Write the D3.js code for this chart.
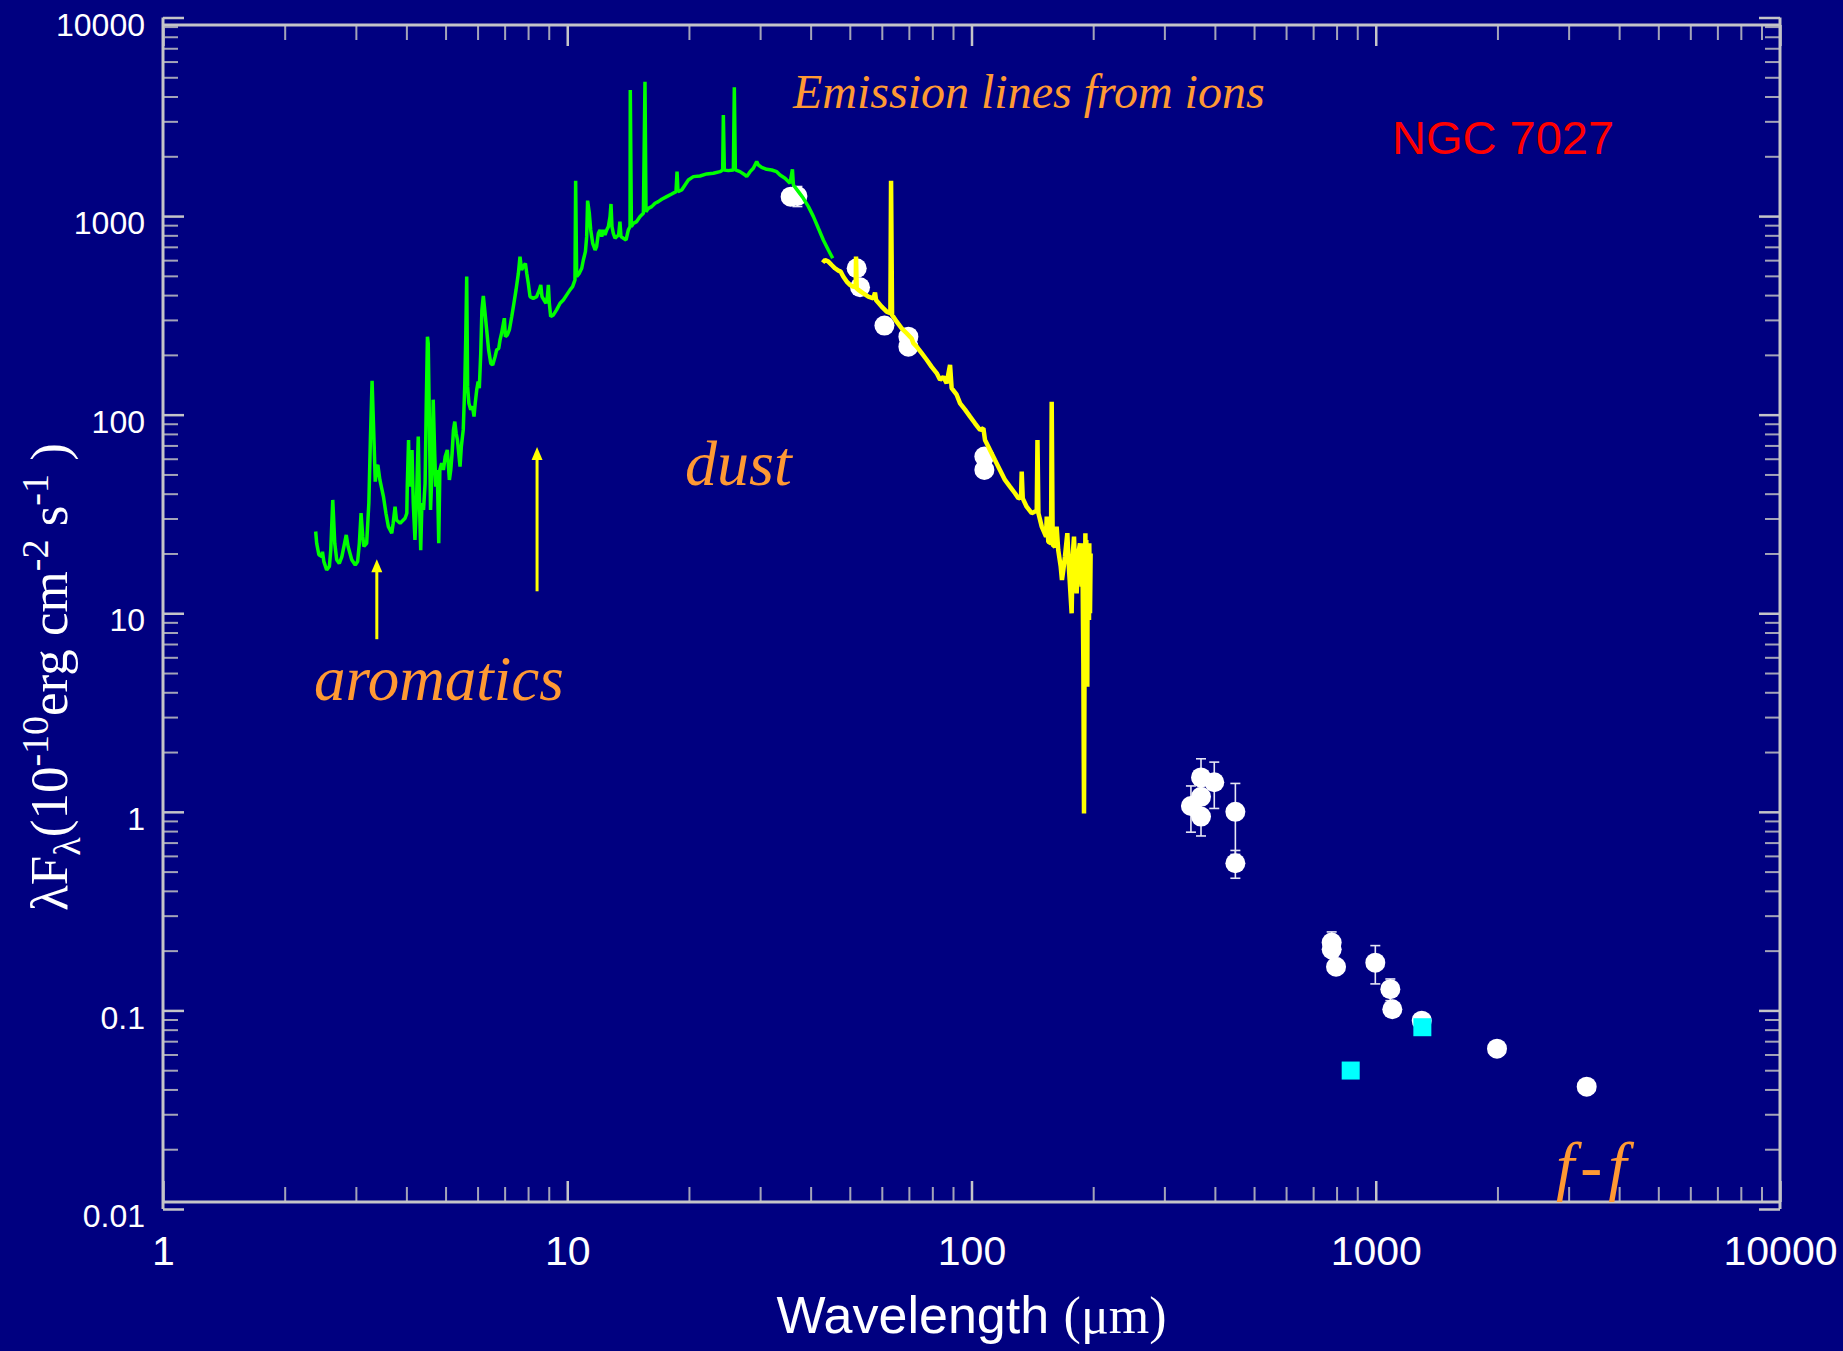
<!DOCTYPE html>
<html>
<head>
<meta charset="utf-8">
<script src="https://cdn.jsdelivr.net/npm/d3@7"></script>
<style>
  html, body { margin: 0; padding: 0; background: #000080; }
  svg { display: block; }
</style>
</head>
<body>
<div id="chart"></div>
<script>
// ISO SWS spectrum (micron, 1e-10 erg cm-2 s-1)
var sws_wave = [
    2.386, 2.40, 2.43, 2.47, 2.48, 2.50, 2.54, 2.58, 2.60, 2.63,
    2.66, 2.69, 2.73, 2.77, 2.84, 2.87, 2.93, 2.99, 3.03, 3.06,
    3.09, 3.12, 3.14, 3.19, 3.23, 3.26, 3.29, 3.33, 3.35, 3.38,
    3.40, 3.44, 3.51, 3.56, 3.61, 3.68, 3.71, 3.75, 3.78, 3.86,
    3.97, 4.01, 4.02, 4.05, 4.07, 4.10, 4.13, 4.16, 4.20, 4.24,
    4.28, 4.31, 4.34, 4.37, 4.41, 4.45, 4.48, 4.51, 4.53, 4.56,
    4.59, 4.63, 4.66, 4.70, 4.73, 4.77, 4.81, 4.84, 4.89, 4.94,
    4.99, 5.05, 5.11, 5.15, 5.19, 5.23, 5.27, 5.31, 5.35, 5.39,
    5.43, 5.47, 5.53, 5.58, 5.61, 5.64, 5.67, 5.71, 5.77, 5.83,
    5.88, 5.92, 5.97, 6.02, 6.06, 6.11, 6.15, 6.20, 6.25, 6.32,
    6.39, 6.47, 6.54, 6.63, 6.69, 6.77, 6.82, 6.88, 6.95, 6.99,
    7.03, 7.11, 7.19, 7.29, 7.38, 7.47, 7.57, 7.64, 7.71, 7.79,
    7.88, 7.94, 8.01, 8.09, 8.24, 8.40, 8.53, 8.60, 8.66, 8.76,
    8.86, 8.93, 8.98, 9.03, 9.10, 9.24, 9.41, 9.60, 9.78, 9.97,
    10.16, 10.31, 10.45, 10.49, 10.55, 10.71, 10.86, 10.96, 11.09, 11.17,
    11.23, 11.34, 11.43, 11.56, 11.72, 11.82, 11.94, 12.05, 12.17, 12.28,
    12.40, 12.52, 12.64, 12.76, 12.83, 12.90, 13.00, 13.13, 13.25, 13.40,
    13.50, 13.58, 13.77, 13.98, 14.16, 14.30, 14.32, 14.41, 14.57, 14.85,
    15.14, 15.43, 15.57, 15.66, 15.87, 16.18, 16.49, 16.80, 17.13, 17.62,
    18.13, 18.58, 18.69, 18.79, 19.19, 19.56, 19.93, 20.51, 21.30, 22.13,
    22.98, 23.87, 24.24, 24.33, 24.47, 25.03, 25.76, 25.90, 26.05, 26.75,
    27.53, 27.79, 28.33, 28.86, 29.42, 29.70, 30.27, 31.14, 32.04, 32.97,
    33.60, 34.57, 35.57, 36.06, 36.26, 37.31, 38.38, 39.50, 40.64, 41.80,
    43.0, 44.25, 45.36
];
var sws_flux = [
    25.8, 22.5, 19.7, 19.3, 20.4, 18.2, 16.5, 17.2, 20.8, 37.2,
    22.5, 18.6, 17.8, 19.3, 24.8, 21.7, 18.6, 17.5, 18.2, 22.5,
    31.9, 24.3, 21.7, 22.5, 35.8, 77.5, 148, 69.0, 46.0, 54.7,
    55.8, 46.9, 38.7, 31.9, 27.3, 25.3, 28.4, 34.4, 29.5, 28.4,
    30.1, 31.9, 43.4, 74.6, 43.4, 56.9, 66.4, 35.8, 23.4, 38.7,
    77.5, 35.8, 20.8, 35.8, 33.1, 45.1, 114, 247, 229, 94.1,
    33.1, 52.7, 119, 63.9, 43.4, 52.7, 22.5, 52.7, 56.9, 52.7,
    61.5, 66.4, 46.9, 52.7, 63.9, 83.8, 92.3, 80.6, 74.6, 63.9,
    54.7, 69.0, 83.8, 144, 247, 496, 138, 114, 106, 110,
    97.8, 114, 133, 147, 136, 204, 337, 396, 337, 267,
    212, 181, 178, 196, 212, 216, 238, 257, 288, 306,
    247, 252, 267, 312, 364, 425, 515, 625, 535, 557,
    578, 515, 459, 393, 385, 393, 425, 450, 393, 378,
    364, 393, 450, 364, 312, 318, 337, 364, 378, 401,
    425, 441, 477, 1508, 496, 515, 546, 601, 662, 788,
    1196, 1033, 851, 729, 675, 702, 819, 851, 788, 851,
    803, 851, 885, 994, 1151, 885, 819, 773, 788, 803,
    938, 788, 773, 758, 851, 885, 4315, 885, 919, 938,
    994, 1033, 4753, 1053, 1094, 1116, 1160, 1182, 1215, 1253,
    1292, 1328, 1674, 1328, 1353, 1435, 1520, 1580, 1592, 1630,
    1642, 1674, 1707, 3229, 1707, 1694, 1707, 4450, 1707, 1674,
    1611, 1580, 1674, 1740, 1880, 1809, 1760, 1720, 1707, 1674,
    1611, 1550, 1462, 1720, 1435, 1328, 1229, 1116, 994, 868,
    758, 675, 613
];

// ISO LWS spectrum
var lws_wave = [
    42.84, 43.41, 44.25, 45.10, 45.96, 46.85, 47.47, 48.20, 49.12, 50.06,
    51.02, 51.71, 51.80, 52.0, 52.50, 54.01, 55.57, 57.18, 57.72, 58.05,
    59.95, 61.69, 63.0, 63.24, 63.60, 65.30, 67.19, 69.12, 71.12, 71.80,
    73.17, 75.30, 77.46, 79.70, 82.0, 83.6, 85.2, 86.8, 88.5, 89.3,
    91.9, 93.7, 96.4, 99.2, 102.0, 105.0, 107.0, 108.0, 111.1, 114.3,
    117.6, 121.0, 124.5, 128.1, 130.6, 132.6, 133.1, 133.9, 136.9, 140.9,
    143.6, 145.0, 145.6, 146.4, 149.2, 152.9, 153.5, 154.9, 157.3, 157.9,
    158.8, 160.9, 162.4, 163.9, 166.2, 167.4, 168.7, 170.3, 172.6, 173.9,
    175.3, 176.9, 177.9, 179.3, 180.6, 182.0, 183.8, 185.5, 187.3, 188.0,
    189.1, 189.8, 190.6, 191.3, 192.0, 192.3, 192.7, 193.1, 193.4, 193.8,
    194.2, 194.9, 195.3, 195.6, 196.4, 197.1
];
var lws_flux = [
    583, 601, 590, 567, 546, 531, 525, 495, 468, 450,
    441, 438, 625, 433, 425, 408, 393, 385, 412, 378,
    350, 330, 324, 1508, 318, 294, 272, 257, 242, 229,
    220, 204, 189, 174, 162, 150, 155, 144, 178, 136,
    126, 114, 106, 97.7, 90.5, 83.7, 85.4, 74.6, 66.4, 59.1,
    52.7, 46.9, 43.4, 40.2, 37.9, 38.4, 51.7, 37.9, 34.4, 31.9,
    32.5, 32.9, 74.6, 31.9, 27.3, 24.3, 30.7, 22.9, 22.5, 116,
    22.1, 21.6, 27.3, 20.8, 17.2, 14.7, 16.5, 19.3, 25.3, 17.9,
    13.6, 10.0, 19.3, 24.3, 15.9, 12.6, 20.0, 22.5, 13.6, 22.5,
    5.60, 0.98, 10.0, 25.3, 9.25, 23.4, 14.7, 21.6, 4.27, 22.5,
    10.0, 20.0, 9.25, 22.5, 10.0, 20.0
];

// photometry (white dots) with errors, 0 = no error bar
var phot_wave = [35.7, 37.1, 52.0, 53.0, 60.9, 69.8, 69.8, 107.6, 107.6,
    349, 369.6, 369.6, 369.6, 398.6, 449.5, 449.5,
    778, 778, 797.6, 997.5, 1086.6, 1099, 1299.5, 1995, 3325];
var phot_flux = [1253, 1263, 546, 438, 281, 247, 220, 61.5, 52.7,
    1.07, 1.49, 1.19, 0.946, 1.41, 1.0, 0.551,
    0.2195, 0.203, 0.166, 0.174, 0.128, 0.1014, 0.0888, 0.0642, 0.0413];
var phot_err = [0, 146, 0, 0, 0, 0, 0, 0, 0,
    0.28, 0.36, 0, 0.19, 0.37, 0.39, 0.088,
    0.029, 0, 0, 0.038, 0.016, 0, 0, 0, 0];

// cyan squares
var cyan_wave = [867, 1304];
var cyan_flux = [0.0498, 0.0823];

// feature arrows: wavelength, tail flux, tip flux
var arrow_wave = [3.38, 8.42];
var arrow_from = [7.4, 12.9];
var arrow_to = [18.7, 68.8];

var x_ticks = [1, 10, 100, 1000, 10000];
var x_tick_labels = ['1', '10', '100', '1000', '10000'];
var y_ticks = [0.01, 0.1, 1, 10, 100, 1000, 10000];
var y_tick_labels = ['0.01', '0.1', '1', '10', '100', '1000', '10000'];

var chart_width = 1843;
var chart_height = 1351;
var frame = { left: 163, right: 1780, top: 25, bottom: 1202 };
var axis_color = '#c4c4c8';
var minor_color = '#a4a4b8';
var label_orange = '#ff9933';

var svg = d3.select('#chart')
    .append('svg')
    .attr('width', chart_width)
    .attr('height', chart_height);

svg.append('rect')
    .attr('width', chart_width)
    .attr('height', chart_height)
    .attr('fill', '#000080');

var x_scale = d3.scaleLog()
    .domain([1, 10000])
    .range([frame.left, frame.right]);

var y_scale = d3.scaleLog()
    .domain([0.01, 10000])
    .range([1209, 17.5]);

// minor tick positions, 2..9 in each decade
function minors(lo, hi) {
    var out = [];
    for (var p = lo; p < hi; p++) {
        for (var k = 2; k <= 9; k++) out.push(k * Math.pow(10, p));
    }
    return out;
}
var x_minor = minors(0, 4);
var y_minor = minors(-2, 4);

function style_axis(g, color, width) {
    g.select('.domain').remove();
    g.selectAll('.tick line')
        .attr('stroke', color)
        .attr('stroke-width', width);
}

// bottom axis with labels
var x_bottom = svg.append('g')
    .attr('transform', 'translate(0,' + frame.bottom + ')')
    .call(d3.axisBottom(x_scale)
        .tickValues(x_ticks)
        .tickSize(-21)
        .tickPadding(34)
        .tickFormat(function(d, i) { return x_tick_labels[i]; }));
style_axis(x_bottom, axis_color, 2.5);
x_bottom.selectAll('text')
    .attr('fill', '#ffffff')
    .attr('font-family', 'Liberation Sans, Arial, sans-serif')
    .attr('font-size', 41);

svg.append('g')
    .attr('transform', 'translate(0,' + frame.bottom + ')')
    .call(d3.axisBottom(x_scale).tickValues(x_minor).tickSize(-15).tickFormat(''))
    .call(style_axis, minor_color, 2);

// top axis, ticks only
svg.append('g')
    .attr('transform', 'translate(0,' + frame.top + ')')
    .call(d3.axisTop(x_scale).tickValues(x_ticks).tickSize(-21).tickFormat(''))
    .call(style_axis, axis_color, 2.5);
svg.append('g')
    .attr('transform', 'translate(0,' + frame.top + ')')
    .call(d3.axisTop(x_scale).tickValues(x_minor).tickSize(-15).tickFormat(''))
    .call(style_axis, minor_color, 2);

// left axis with labels
var y_left = svg.append('g')
    .attr('transform', 'translate(' + frame.left + ',0)')
    .call(d3.axisLeft(y_scale)
        .tickValues(y_ticks)
        .tickSize(-21)
        .tickPadding(18)
        .tickFormat(function(d, i) { return y_tick_labels[i]; }));
style_axis(y_left, axis_color, 2.5);
y_left.selectAll('text')
    .attr('dy', '0.55em')
    .attr('fill', '#ffffff')
    .attr('font-family', 'Liberation Sans, Arial, sans-serif')
    .attr('font-size', 32);

svg.append('g')
    .attr('transform', 'translate(' + frame.left + ',0)')
    .call(d3.axisLeft(y_scale).tickValues(y_minor).tickSize(-15).tickFormat(''))
    .call(style_axis, minor_color, 2);

// right axis, ticks only
svg.append('g')
    .attr('transform', 'translate(' + frame.right + ',0)')
    .call(d3.axisRight(y_scale).tickValues(y_ticks).tickSize(-21).tickFormat(''))
    .call(style_axis, axis_color, 2.5);
svg.append('g')
    .attr('transform', 'translate(' + frame.right + ',0)')
    .call(d3.axisRight(y_scale).tickValues(y_minor).tickSize(-15).tickFormat(''))
    .call(style_axis, minor_color, 2);

// frame
var y_top = y_scale(10000), y_bot = y_scale(0.01);
var frame_lines = [
    [frame.left, y_top, frame.left, y_bot],
    [frame.right, y_top, frame.right, y_bot],
    [frame.left, frame.top, frame.right, frame.top],
    [frame.left, frame.bottom, frame.right, frame.bottom]
];
svg.append('g').selectAll('line')
    .data(frame_lines)
    .enter()
    .append('line')
    .attr('x1', function(d) { return d[0]; })
    .attr('y1', function(d) { return d[1]; })
    .attr('x2', function(d) { return d[2]; })
    .attr('y2', function(d) { return d[3]; })
    .attr('stroke', axis_color)
    .attr('stroke-width', 3);

// error bars
var phot = d3.range(phot_wave.length).map(function(i) {
    return { w: phot_wave[i], f: phot_flux[i], e: phot_err[i] };
});
var err_g = svg.append('g')
    .attr('stroke', '#e6e6f4')
    .attr('stroke-width', 1.6);
phot.filter(function(d) { return d.e > 0; }).forEach(function(d) {
    var x = x_scale(d.w);
    var y1 = y_scale(d.f + d.e), y2 = y_scale(d.f - d.e);
    err_g.append('line').attr('x1', x).attr('x2', x).attr('y1', y1).attr('y2', y2);
    err_g.append('line').attr('x1', x - 5).attr('x2', x + 5).attr('y1', y1).attr('y2', y1);
    err_g.append('line').attr('x1', x - 5).attr('x2', x + 5).attr('y1', y2).attr('y2', y2);
});

// photometry dots
svg.append('g').selectAll('circle')
    .data(phot)
    .enter()
    .append('circle')
    .attr('cx', function(d) { return x_scale(d.w); })
    .attr('cy', function(d) { return y_scale(d.f); })
    .attr('r', 10)
    .attr('fill', '#ffffff');

// cyan squares
svg.append('g').selectAll('rect')
    .data(d3.zip(cyan_wave, cyan_flux))
    .enter()
    .append('rect')
    .attr('x', function(d) { return x_scale(d[0]) - 9; })
    .attr('y', function(d) { return y_scale(d[1]) - 9; })
    .attr('width', 18)
    .attr('height', 18)
    .attr('fill', '#00ffff');

// spectra
var line = d3.line()
    .x(function(d) { return x_scale(d[0]); })
    .y(function(d) { return y_scale(d[1]); });

svg.append('path')
    .datum(d3.zip(sws_wave, sws_flux))
    .attr('d', line)
    .attr('fill', 'none')
    .attr('stroke', '#00ff00')
    .attr('stroke-width', 3.5)
    .attr('stroke-linejoin', 'bevel');

svg.append('path')
    .datum(d3.zip(lws_wave, lws_flux))
    .attr('d', line)
    .attr('fill', 'none')
    .attr('stroke', '#ffff00')
    .attr('stroke-width', 4.5)
    .attr('stroke-linejoin', 'bevel');

// arrows
var arrows = d3.range(arrow_wave.length).map(function(i) {
    return { w: arrow_wave[i], from: arrow_from[i], to: arrow_to[i] };
});
var arrow_g = svg.append('g');
arrows.forEach(function(d) {
    var x = x_scale(d.w), y0 = y_scale(d.from), y1 = y_scale(d.to);
    arrow_g.append('line')
        .attr('x1', x).attr('x2', x)
        .attr('y1', y0).attr('y2', y1 + 10)
        .attr('stroke', '#ffff00')
        .attr('stroke-width', 3);
    arrow_g.append('path')
        .attr('d', 'M' + x + ',' + y1 + 'L' + (x + 5.5) + ',' + (y1 + 13) + 'L' + (x - 5.5) + ',' + (y1 + 13) + 'Z')
        .attr('fill', '#ffff00');
});

// annotations
var serif = 'Liberation Serif, Times New Roman, serif';
var sans = 'Liberation Sans, Arial, sans-serif';

function note(txt, x, y, size, spacing) {
    svg.append('text')
        .attr('x', x)
        .attr('y', y)
        .attr('font-family', serif)
        .attr('font-style', 'italic')
        .attr('font-size', size)
        .attr('letter-spacing', spacing || 0)
        .attr('fill', label_orange)
        .text(txt);
}
note('Emission lines from ions', 793, 108, 48);
note('dust', 685, 485, 64);
note('aromatics', 314, 700, 63);
note('f-f', 1556, 1188, 66, 6);

svg.append('text')
    .attr('x', 1392)
    .attr('y', 154)
    .attr('font-family', sans)
    .attr('font-size', 47)
    .attr('fill', '#ff0000')
    .text('NGC 7027');

// axis titles
var xt = svg.append('text')
    .attr('x', (frame.left + frame.right) / 2)
    .attr('y', 1333)
    .attr('text-anchor', 'middle')
    .attr('fill', '#ffffff')
    .attr('font-size', 52);
xt.append('tspan').attr('font-family', sans).text('Wavelength ');
xt.append('tspan').attr('font-family', serif).text('(\u03bcm)');

var yt = svg.append('text')
    .attr('transform', 'translate(67,677) rotate(-90)')
    .attr('text-anchor', 'middle')
    .attr('fill', '#ffffff')
    .attr('font-family', serif)
    .attr('font-size', 53);
yt.append('tspan').text('\u03bbF');
yt.append('tspan').attr('font-size', 38).attr('baseline-shift', '-13').text('\u03bb');
yt.append('tspan').text('(10');
yt.append('tspan').attr('font-size', 38).attr('baseline-shift', '19').text('-10');
yt.append('tspan').text('erg cm');
yt.append('tspan').attr('font-size', 38).attr('baseline-shift', '19').text('-2');
yt.append('tspan').text(' s');
yt.append('tspan').attr('font-size', 38).attr('baseline-shift', '19').text('-1');
yt.append('tspan').text(' )');
</script>
</body>
</html>
